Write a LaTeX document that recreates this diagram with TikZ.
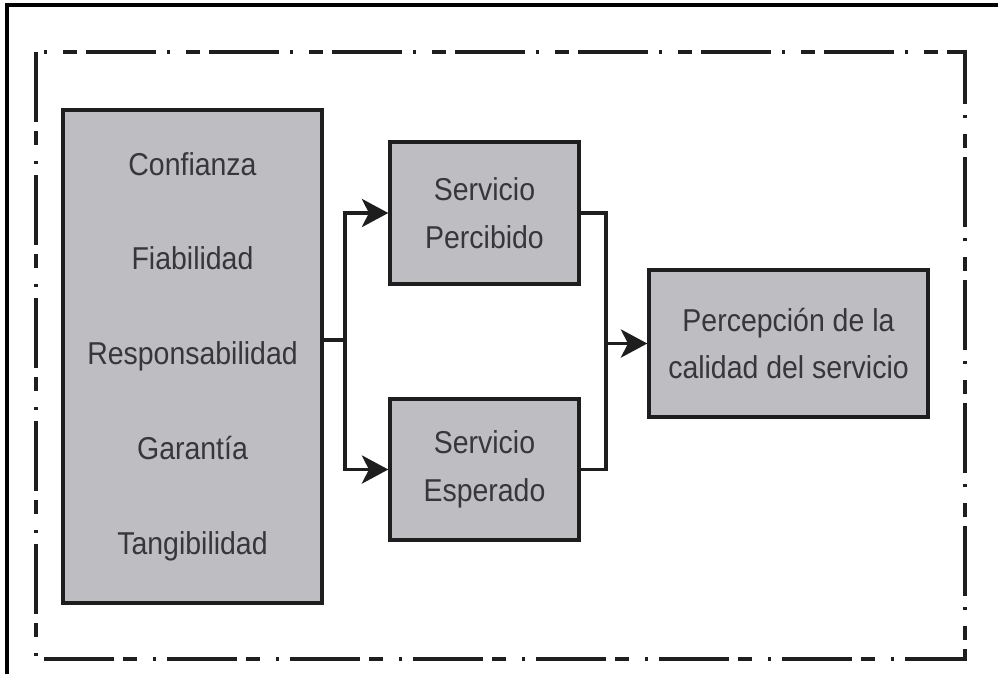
\documentclass[tikz,border=0pt]{standalone}
\usepackage{fontspec}
\setmainfont{Liberation Sans}[FakeStretch=0.9]
\usetikzlibrary{positioning,arrows.meta}
\definecolor{boxgray}{RGB}{190,190,194}
\definecolor{inkgray}{RGB}{55,55,58}
\definecolor{edgegray}{RGB}{30,30,30}

\begin{document}
\begin{tikzpicture}[x=0.02cm,y=-0.02cm,
  greybox/.style={rectangle, draw=edgegray, fill=boxgray, line width=2pt, inner sep=0pt, align=center, text=inkgray, font=\fontsize{18}{27}\selectfont},
  link/.style={draw=edgegray, line width=2pt},
  arrow/.style={link, -{Stealth[length=15pt,width=16pt,inset=4pt]}}]

\useasboundingbox (0,0) rectangle (998,674);
% frames
\draw[line width=2.8pt] (7,674) -- (7,5) -- (998,5);
\draw[draw=edgegray, line width=2pt, dash pattern=on 40pt off 5pt on 8pt off 9pt on 2pt off 6pt] (36,52) rectangle (965,659);

\node[greybox, minimum width=5.18cm, minimum height=9.86cm, font=\fontsize{18}{53.9}\selectfont] (dims) at (192.5,356.5) {Confianza\\Fiabilidad\\Responsabilidad\\Garantía\\Tangibilidad};
\node[greybox, minimum width=3.78cm, minimum height=2.84cm] (perc) at (484.5,213) {Servicio\\Percibido};
\node[greybox, minimum width=3.78cm, minimum height=2.82cm] (esp) at (484.5,469.5) {Servicio\\Esperado};
\node[greybox, minimum width=5.58cm, minimum height=2.94cm] (qual) at (788.5,343.5) {Percepción de la\\calidad del servicio};

\coordinate (split) at (345,340);
\coordinate (merge) at (606,343.5);

\draw[link] (dims.east |- split) -- (split);
\draw[arrow] (split) |- (perc);
\draw[arrow] (split) |- (esp);
\draw[link] (perc.east) -| (merge) |- (esp.east);
\draw[arrow] (merge) -- (qual);
\end{tikzpicture}
\end{document}
